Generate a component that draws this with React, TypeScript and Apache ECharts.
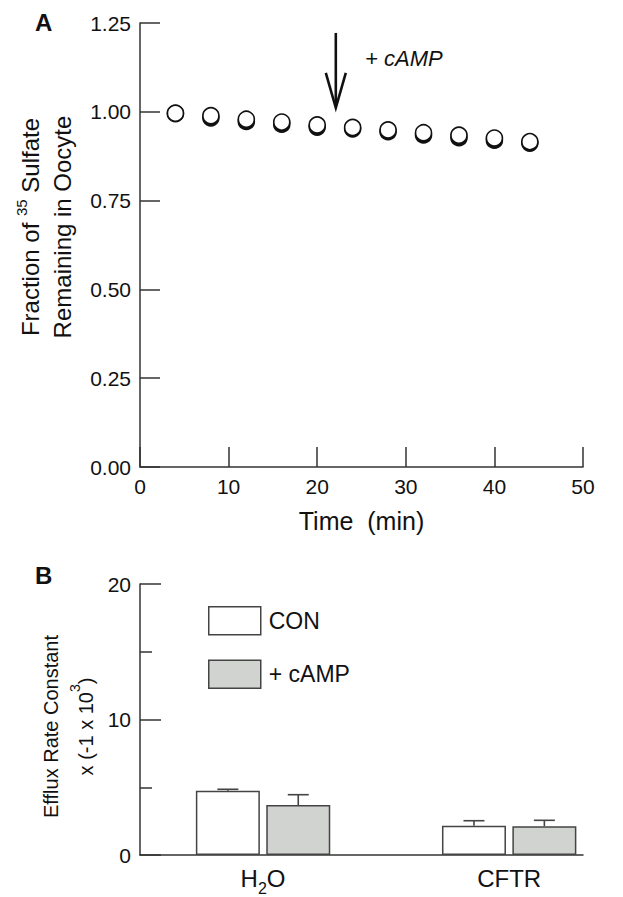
import React, { useEffect, useRef } from "react";
import * as echarts from "echarts";

// ---- Panel A data ----
const times = [4, 8, 12, 16, 20, 24, 28, 32, 36, 40, 44];
const openVals = [0.996, 0.989, 0.979, 0.971, 0.963, 0.956, 0.949, 0.941, 0.934, 0.926, 0.916];
const filledVals = [0.995, 0.983, 0.973, 0.965, 0.957, 0.952, 0.944, 0.935, 0.927, 0.92, 0.912];
const arrowTime = 22.1;
const arrowTop = 1.222;
const arrowTip = 1.011;
const arrowLabel = "+ cAMP";
const arrowLabelPos = [25.4, 1.149];

// ---- Panel B data ----
const groupNames = ["H2O", "CFTR"];
const groupPos = [1, 3];
const conMeans = [4.75, 2.16];
const conErr = [0.1, 0.37];
const campMeans = [3.69, 2.12];
const campErr = [0.76, 0.44];

const FONT = "'Liberation Sans', Arial, Helvetica, sans-serif";
const AXIS = "#333";
const INK = "#111";
const BAR_W = 64;
const BAR_GAP_PX = 6.4;

function errorSeries(name: string, means: number[], errs: number[], sign: number) {
  return {
    name,
    type: "custom",
    xAxisIndex: 1,
    yAxisIndex: 1,
    z: 5,
    data: groupPos.map((p, i) => [p, means[i], errs[i]]),
    renderItem: (_params: any, api: any) => {
      const x = api.value(0);
      const m = api.value(1);
      const e = api.value(2);
      const base = api.coord([x, m]);
      const top = api.coord([x, m + e]);
      const cx = base[0] + sign * (BAR_W + BAR_GAP_PX) / 2;
      const style = { stroke: "#444", lineWidth: 1.6 };
      return {
        type: "group",
        children: [
          { type: "line", shape: { x1: cx, y1: base[1], x2: cx, y2: top[1] }, style },
          { type: "line", shape: { x1: cx - 10.5, y1: top[1], x2: cx + 10.5, y2: top[1] }, style },
        ],
      };
    },
  };
}

export default function App() {
  const ref = useRef<HTMLDivElement>(null);
  useEffect(() => {
    if (!ref.current) return;
    const chart = echarts.init(ref.current, null, { renderer: "svg" });
    const panelLabels = [
      { type: "text", left: 35, top: 10, style: { text: "A", font: "bold 24px " + FONT, fill: INK } },
      { type: "text", left: 35, top: 563, style: { text: "B", font: "bold 24px " + FONT, fill: INK } },
    ];
    const option: any = {
      animation: false,
      backgroundColor: "#fff",
      textStyle: { fontFamily: FONT, color: INK },
      grid: [
        { left: 140, right: 40, top: 23, bottom: 430 },
        { left: 140, right: 40, top: 584, bottom: 42 },
      ],
      xAxis: [
        {
          gridIndex: 0,
          type: "value",
          min: 0,
          max: 50,
          interval: 10,
          name: "Time  (min)",
          nameLocation: "middle",
          nameGap: 41,
          nameTextStyle: { fontSize: 25, color: INK, fontFamily: FONT },
          axisLine: { lineStyle: { color: AXIS, width: 1.5 } },
          axisTick: { inside: true, length: 20, lineStyle: { color: AXIS, width: 1.5 } },
          axisLabel: { fontSize: 21, color: INK, margin: 9, fontFamily: FONT },
          splitLine: { show: false },
        },
        {
          gridIndex: 1,
          type: "value",
          min: 0,
          max: 3.6,
          interval: 1,
          axisLine: { lineStyle: { color: AXIS, width: 1.5 } },
          axisTick: { show: false },
          axisLabel: {
            margin: 11,
            showMaxLabel: false,
            formatter: (v: number) => {
              const i = groupPos.indexOf(v);
              if (i < 0) return "";
              const n = groupNames[i];
              if (n === "H2O") return "{t|H}{sub|2}{t|O}";
              return "{t|" + n + "}";
            },
            rich: {
              t: { fontSize: 24, color: INK, fontFamily: FONT, verticalAlign: "top", lineHeight: 24 },
              sub: { fontSize: 16, color: INK, fontFamily: FONT, verticalAlign: "top", lineHeight: 16, padding: [14, 0, 0, 0] },
            },
          },
          splitLine: { show: false },
        },
      ],
      yAxis: [
        {
          gridIndex: 0,
          type: "value",
          min: 0,
          max: 1.25,
          interval: 0.25,
          name: "Fraction of {sup|35} Sulfate\nRemaining in Oocyte",
          nameLocation: "middle",
          nameRotate: 90,
          nameGap: 62,
          nameMoveOverlap: false,
          nameTextStyle: {
            fontSize: 24,
            color: INK,
            fontFamily: FONT,
            lineHeight: 32,
            padding: [0, 0, 0, 36],
            rich: {
              sup: { fontSize: 15, color: INK, fontFamily: FONT, verticalAlign: "top", lineHeight: 32, padding: [0, 0, 8, 0] },
            },
          },
          axisLine: { show: true, lineStyle: { color: AXIS, width: 1.5 } },
          axisTick: { show: true, inside: true, length: 20, lineStyle: { color: AXIS, width: 1.5 } },
          axisLabel: { fontSize: 21, color: INK, margin: 9, fontFamily: FONT, formatter: (v: number) => v.toFixed(2) },
          splitLine: { show: false },
        },
        {
          gridIndex: 1,
          type: "value",
          min: 0,
          max: 20,
          interval: 10,
          name: "Efflux Rate Constant\nx (-1 x 10{sup|3})",
          nameLocation: "middle",
          nameRotate: 90,
          nameGap: 37,
          nameMoveOverlap: false,
          nameTextStyle: {
            fontSize: 20,
            color: INK,
            fontFamily: FONT,
            lineHeight: 35,
            padding: [0, 14, 0, 0],
            rich: {
              sup: { fontSize: 14, color: INK, fontFamily: FONT, verticalAlign: "top", lineHeight: 35, padding: [0, 0, 6, 0] },
            },
          },
          axisLine: { show: true, lineStyle: { color: AXIS, width: 1.5 } },
          axisTick: { show: true, inside: true, length: 21, lineStyle: { color: AXIS, width: 1.5 } },
          minorTick: { show: true, splitNumber: 2, length: 12, lineStyle: { color: AXIS, width: 1.5 } },
          axisLabel: { fontSize: 21, color: INK, margin: 9, fontFamily: FONT },
          splitLine: { show: false },
          minorSplitLine: { show: false },
        },
      ],
      legend: {
        show: true,
        orient: "vertical",
        left: 203,
        top: 601,
        itemWidth: 52,
        itemHeight: 28,
        itemGap: 24,
        icon: "rect",
        textStyle: { fontSize: 23, color: INK, fontFamily: FONT, padding: [0, 0, 0, 3] },
        data: [
          { name: "CON", itemStyle: { color: "#fff", borderColor: "#444", borderWidth: 1.5 } },
          { name: "+ cAMP", itemStyle: { color: "#d1d3d1", borderColor: "#444", borderWidth: 1.5 } },
        ],
      },
      series: [
        {
          name: "filled",
          type: "scatter",
          xAxisIndex: 0,
          yAxisIndex: 0,
          symbol: "circle",
          symbolSize: 16,
          itemStyle: { color: INK, borderColor: INK, borderWidth: 1.6, opacity: 1 },
          data: times.map((t, i) => [t, filledVals[i]]),
        },
        {
          name: "open",
          type: "scatter",
          xAxisIndex: 0,
          yAxisIndex: 0,
          symbol: "circle",
          symbolSize: 16,
          itemStyle: { color: "#fff", borderColor: INK, borderWidth: 1.6, opacity: 1 },
          data: times.map((t, i) => [t, openVals[i]]),
        },
        {
          name: "CON",
          type: "bar",
          xAxisIndex: 1,
          yAxisIndex: 1,
          barWidth: BAR_W,
          barGap: "10%",
          itemStyle: { color: "#fff", borderColor: "#444", borderWidth: 1.5 },
          data: groupPos.map((p, i) => [p, conMeans[i]]),
        },
        {
          name: "+ cAMP",
          type: "bar",
          xAxisIndex: 1,
          yAxisIndex: 1,
          barWidth: BAR_W,
          barGap: "10%",
          itemStyle: { color: "#d1d3d1", borderColor: "#444", borderWidth: 1.5 },
          data: groupPos.map((p, i) => [p, campMeans[i]]),
        },
        errorSeries("CON err", conMeans, conErr, -1),
        errorSeries("cAMP err", campMeans, campErr, 1),
      ],
      graphic: panelLabels,
    };
    chart.setOption(option);

    const pTop = chart.convertToPixel({ gridIndex: 0 } as any, [arrowTime, arrowTop]) as number[];
    const pTip = chart.convertToPixel({ gridIndex: 0 } as any, [arrowTime, arrowTip]) as number[];
    const pLab = chart.convertToPixel({ gridIndex: 0 } as any, arrowLabelPos) as number[];
    chart.setOption({
      graphic: [
        ...panelLabels,
        {
          type: "line",
          shape: { x1: pTop[0], y1: pTop[1], x2: pTip[0], y2: pTip[1] - 2 },
          style: { stroke: INK, lineWidth: 2.6 },
        },
        {
          type: "polyline",
          shape: { points: [[pTip[0] - 10, pTip[1] - 35], [pTip[0], pTip[1]], [pTip[0] + 10, pTip[1] - 35]] },
          style: { stroke: INK, lineWidth: 2.6, fill: "none", lineJoin: "miter" },
        },
        {
          type: "text",
          x: pLab[0],
          y: pLab[1],
          style: { text: arrowLabel, font: "italic 22px " + FONT, fill: INK, verticalAlign: "middle", align: "left" },
        },
      ],
    });

    return () => chart.dispose();
  }, []);
  return <div ref={ref} style={{ position: "fixed", left: 0, top: 0, width: 623, height: 897 }} />;
}
